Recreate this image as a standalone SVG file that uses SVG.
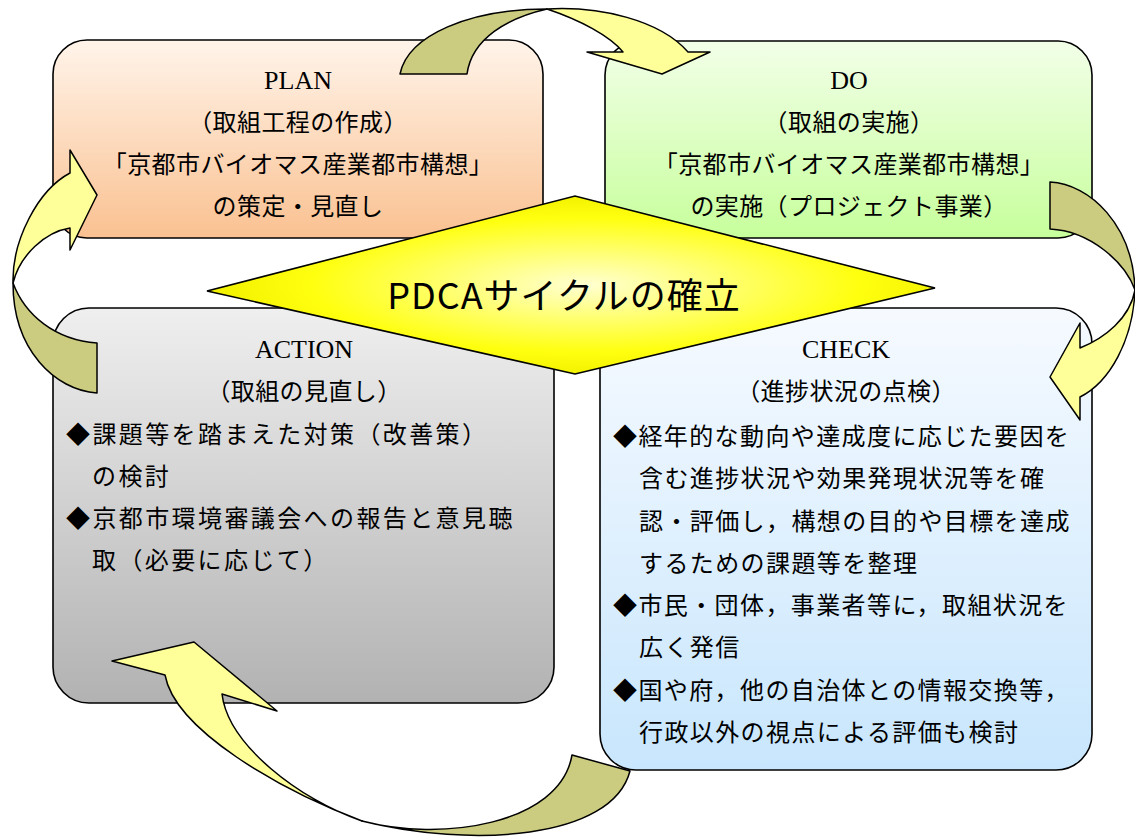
<svg xmlns="http://www.w3.org/2000/svg" width="1135" height="839" viewBox="0 0 1135 839">
<defs>
<linearGradient id="gPlan" x1="0" y1="0" x2="0" y2="1"><stop offset="0" stop-color="#FFF4EA"/><stop offset="1" stop-color="#FAC191"/></linearGradient>
<linearGradient id="gDo" x1="0" y1="0" x2="0" y2="1"><stop offset="0" stop-color="#F2FFE8"/><stop offset="1" stop-color="#C7FF9C"/></linearGradient>
<linearGradient id="gAct" x1="0" y1="0" x2="0" y2="1"><stop offset="0" stop-color="#EFEFEF"/><stop offset="1" stop-color="#B2B2B2"/></linearGradient>
<linearGradient id="gChk" x1="0" y1="0" x2="0" y2="1"><stop offset="0" stop-color="#F6FAFF"/><stop offset="1" stop-color="#C8E6FD"/></linearGradient>
<radialGradient id="gDia" cx="0.52" cy="0.5" r="0.5"><stop offset="0" stop-color="#FFFFD2"/><stop offset="0.75" stop-color="#FFFF10"/><stop offset="1" stop-color="#F2F200"/></radialGradient>
<style>
.box{stroke:#000;stroke-width:1.6}
.ttl{font-family:"Liberation Serif",serif;font-size:26px;fill:#000;text-anchor:middle}
.jp{font-family:"Noto Sans CJK JP",sans-serif;font-size:24px;fill:#000}
.c{text-anchor:middle}
.pd{letter-spacing:0.4px}
.ac{letter-spacing:2.4px}
.ck{letter-spacing:1.4px}
.ol{fill:#CCCC80;stroke:#000;stroke-width:1.5;stroke-linejoin:round}
.ye{fill:#FFFF99;stroke:#000;stroke-width:1.5;stroke-linejoin:round}
.big{font-family:"Noto Sans CJK JP",sans-serif;font-size:36px;letter-spacing:1px;fill:#000;text-anchor:middle}
</style>
</defs>
<rect width="1135" height="839" fill="#fff"/>
<g id="plan">
<rect class="box" x="53" y="40" width="490" height="198" rx="34" fill="url(#gPlan)"/>
<text class="ttl" x="298" y="89">PLAN</text>
<text class="jp c pd" x="298" y="131">（取組工程の作成）</text>
<text class="jp c pd" x="298" y="173">「京都市バイオマス産業都市構想」</text>
<text class="jp c pd" x="298" y="215">の策定・見直し</text>
</g>
<g id="do">
<rect class="box" x="605" y="41" width="487" height="197" rx="34" fill="url(#gDo)"/>
<text class="ttl" x="849" y="89">DO</text>
<text class="jp c pd" x="849" y="131">（取組の実施）</text>
<text class="jp c pd" x="849" y="173">「京都市バイオマス産業都市構想」</text>
<text class="jp c pd" x="849" y="215">の実施（プロジェクト事業）</text>
</g>
<g id="action">
<rect class="box" x="53" y="308" width="501" height="395" rx="36" fill="url(#gAct)"/>
<text class="ttl" x="304" y="358">ACTION</text>
<text class="jp c pd" x="304" y="400">（取組の見直し）</text>
<text class="jp ac" x="66" y="443">◆課題等を踏まえた対策（改善策）</text>
<text class="jp ac" x="92" y="485">の検討</text>
<text class="jp ac" x="66" y="527">◆京都市環境審議会への報告と意見聴</text>
<text class="jp ac" x="92" y="569">取（必要に応じて）</text>
</g>
<g id="check">
<rect class="box" x="600" y="308" width="492" height="462" rx="36" fill="url(#gChk)"/>
<text class="ttl" x="846" y="358">CHECK</text>
<text class="jp c pd" x="846" y="400">（進捗状況の点検）</text>
<text class="jp ck" x="613" y="445">◆経年的な動向や達成度に応じた要因を</text>
<text class="jp ck" x="639" y="487">含む進捗状況や効果発現状況等を確</text>
<text class="jp ck" x="639" y="530">認・評価し，構想の目的や目標を達成</text>
<text class="jp ck" x="639" y="572">するための課題等を整理</text>
<text class="jp ck" x="613" y="614">◆市民・団体，事業者等に，取組状況を</text>
<text class="jp ck" x="639" y="656">広く発信</text>
<text class="jp ck" x="613" y="699">◆国や府，他の自治体との情報交換等，</text>
<text class="jp ck" x="639" y="741">行政以外の視点による評価も検討</text>
</g>
<g id="center">
<polygon points="207,291 575,196 935,288 575,374" fill="url(#gDia)" stroke="#000" stroke-width="1.6" stroke-linejoin="miter"/>
<text class="big" x="564" y="309">PDCAサイクルの確立</text>
</g>
<g id="connectors">
<g id="arrow-plan-do">
<path class="ol" d="M400,74 C408,35 470,9 547,9 C508,18 472,38 467,74 Z"/>
<path class="ye" d="M547,9 C600,6 660,20 688,52 L710,52 L662,74 L587,52 L623,52 C610,36 580,20 547,9 Z"/>
</g>
<g id="arrow-do-check">
<path class="ol" d="M1050,182 C1090,184 1133,225 1135,290 C1125,262 1090,231 1050,229 Z"/>
<path class="ye" d="M1135,290 C1133,340 1110,382 1080,397 L1080,420 L1050,377 L1080,323 L1080,348 C1105,338 1130,318 1135,290 Z"/>
</g>
<g id="arrow-check-action">
<path class="ol" d="M630,771 C612,840 470,848 362,821 C440,842 560,825 572,755 Z"/>
<path class="ye" d="M362,821 C280,790 175,730 165,675 L112,661 L194,642 L277,711 L222,694 C228,745 300,800 362,821 Z"/>
</g>
<g id="arrow-action-plan">
<path class="ol" d="M97,393 C55,390 13,350 13,283 C25,315 55,340 97,343 Z"/>
<path class="ye" d="M13,283 C12,240 38,190 70,173 L70,150 L97,195 L70,250 L70,228 C45,232 20,255 13,283 Z"/>
</g>
</g>
</svg>
